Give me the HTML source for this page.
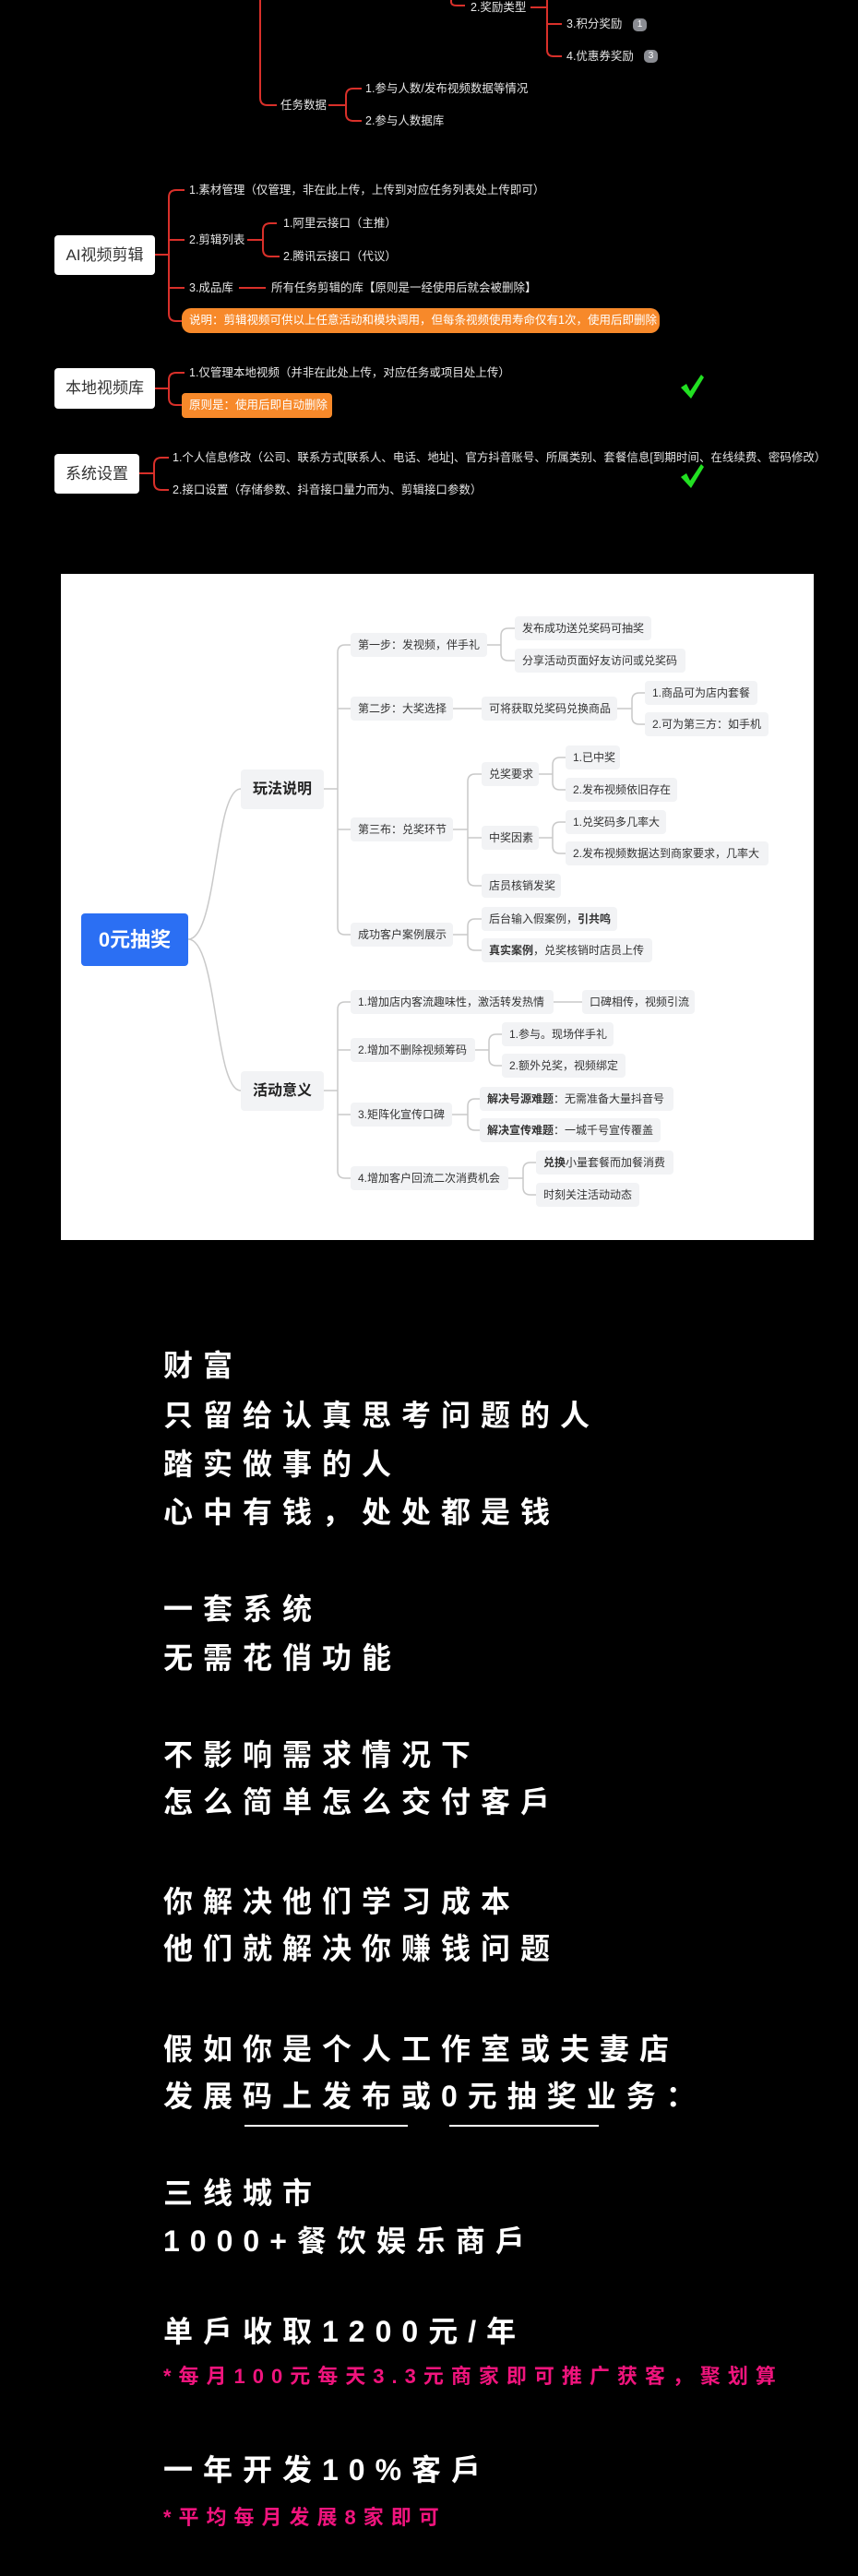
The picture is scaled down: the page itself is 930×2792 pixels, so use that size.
<!DOCTYPE html>
<html><head><meta charset="utf-8">
<style>
html,body{margin:0;padding:0;background:#000;}
body{width:930px;height:2792px;position:relative;overflow:hidden;font-family:"Liberation Sans","Noto Sans CJK SC",sans-serif;}
.d{position:absolute;font-size:12.5px;line-height:16px;color:#e6e6e6;white-space:nowrap;}
.box{position:absolute;background:#fff;border-radius:4px;color:#333;font-size:17px;text-align:center;box-sizing:border-box;}
.or{position:absolute;background:#f7892a;border-radius:10px;color:#fff;font-size:12.5px;white-space:nowrap;padding-left:8px;box-sizing:border-box;}
.badge{position:absolute;background:#8a8c92;border-radius:5px;color:#fff;font-size:10px;text-align:center;width:15px;height:14px;line-height:14px;}
.n{position:absolute;height:26px;line-height:26px;background:#f2f3f5;border-radius:4px;font-size:12px;color:#333;padding-left:8px;box-sizing:border-box;white-space:nowrap;}
.big{position:absolute;background:#f2f3f5;border-radius:4px;font-size:16px;font-weight:bold;color:#222;text-align:center;width:90px;height:43px;line-height:43px;}
.b{position:absolute;left:177px;font-size:32px;font-weight:bold;letter-spacing:11px;color:#fff;line-height:40px;white-space:nowrap;font-family:"Liberation Sans","Noto Sans CJK SC",sans-serif;}
.p{position:absolute;left:177px;font-size:22px;font-weight:bold;letter-spacing:8px;color:#f0147d;line-height:30px;white-space:nowrap;}
</style></head><body>

<svg style="position:absolute;left:0;top:0" width="930" height="600">
<g fill="none" stroke="#d9302a" stroke-width="2">
<path d="M282 0V106Q282 114 290 114H300"/>
<path d="M356 114H375M392 96H383Q375 96 375 104V123Q375 131 383 131H392"/>
<path d="M489 0V2Q489 6 495 6H504"/>
<path d="M575 8H593M593 0V54Q593 61 600 61H609M593 26H609"/>
<path d="M168 276H183M200 206H191Q183 206 183 214V340Q183 348 191 348H197M183 260H200M183 312H200"/>
<path d="M268 260H285M300 242H293Q285 242 285 250V270Q285 278 293 278H303"/>
<path d="M259 312H288"/>
<path d="M168 421H183M200 404H191Q183 404 183 412V431Q183 439 191 439H197"/>
<path d="M151 513H167M183 496H175Q167 496 167 504V523Q167 531 175 531H183"/>
</g>
<path d="M738 420 L744 416 L748 424 L760 406 L763 409 L749 432 Z" fill="#22e022"/>
<path d="M738 517 L744 513 L748 521 L760 503 L763 506 L749 529 Z" fill="#22e022"/>
</svg>

<div class="d" style="left:510px;top:0px">2.奖励类型</div>
<div class="d" style="left:614px;top:18px">3.积分奖励</div>
<div class="badge" style="left:686px;top:20px">1</div>
<div class="d" style="left:614px;top:53px">4.优惠券奖励</div>
<div class="badge" style="left:698px;top:54px">3</div>
<div class="d" style="left:304px;top:106px">任务数据</div>
<div class="d" style="left:396px;top:88px">1.参与人数/发布视频数据等情况</div>
<div class="d" style="left:396px;top:123px">2.参与人数据库</div>

<div class="box" style="left:59px;top:255px;width:109px;height:43px;line-height:43px">AI视频剪辑</div>
<div class="d" style="left:205px;top:198px">1.素材管理（仅管理，非在此上传，上传到对应任务列表处上传即可）</div>
<div class="d" style="left:205px;top:252px">2.剪辑列表</div>
<div class="d" style="left:307px;top:234px">1.阿里云接口（主推）</div>
<div class="d" style="left:307px;top:270px">2.腾讯云接口（代议）</div>
<div class="d" style="left:205px;top:304px">3.成品库</div>
<div class="d" style="left:294px;top:304px">所有任务剪辑的库【原则是一经使用后就会被删除】</div>
<div class="or" style="left:197px;top:334px;width:518px;height:27px;line-height:27px">说明：剪辑视频可供以上任意活动和模块调用，但每条视频使用寿命仅有1次，使用后即删除</div>

<div class="box" style="left:59px;top:399px;width:109px;height:44px;line-height:44px">本地视频库</div>
<div class="d" style="left:205px;top:396px">1.仅管理本地视频（并非在此处上传，对应任务或项目处上传）</div>
<div class="or" style="left:197px;top:426px;width:163px;height:27px;line-height:27px;border-radius:4px">原则是：使用后即自动删除</div>

<div class="box" style="left:59px;top:492px;width:92px;height:43px;line-height:43px">系统设置</div>
<div class="d" style="left:187px;top:488px">1.个人信息修改（公司、联系方式[联系人、电话、地址]、官方抖音账号、所属类别、套餐信息[到期时间、在线续费、密码修改）</div>
<div class="d" style="left:187px;top:523px">2.接口设置（存储参数、抖音接口量力而为、剪辑接口参数）</div>

<div style="position:absolute;left:66px;top:622px;width:816px;height:722px;background:#fff"></div>
<svg style="position:absolute;left:0;top:0" width="930" height="1400">
<g fill="none" stroke="#c9c9c9" stroke-width="1.5">
<path d="M204 1018C236 1018 232 855 261 855M204 1018C236 1018 232 1182 261 1182"/>
<path d="M351 855H366M380 699H374Q366 699 366 707V1005Q366 1013 374 1013H380M366 768H380M366 899H380"/>
<path d="M528 699H543M558 681H551Q543 681 543 689V708Q543 716 551 716H558"/>
<path d="M491 768H522M669 768H685M699 751H693Q685 751 685 759V777Q685 785 693 785H699"/>
<path d="M491 899H507M522 839H515Q507 839 507 847V952Q507 960 515 960H522M507 908H522"/>
<path d="M584 839H599M613 821H607Q599 821 599 829V848Q599 856 607 856H613"/>
<path d="M584 908H599M613 891H607Q599 891 599 899V917Q599 925 607 925H613"/>
<path d="M491 1013H507M522 996H515Q507 996 507 1004V1022Q507 1030 515 1030H522"/>
<path d="M351 1182H366M380 1086H374Q366 1086 366 1094V1269Q366 1277 374 1277H380M366 1138H380M366 1208H380"/>
<path d="M600 1086H631"/>
<path d="M515 1138H530M544 1121H538Q530 1121 530 1129V1147Q530 1155 538 1155H544"/>
<path d="M490 1208H507M520 1191H515Q507 1191 507 1199V1217Q507 1225 515 1225H520"/>
<path d="M551 1277H567M581 1260H575Q567 1260 567 1268V1287Q567 1295 575 1295H581"/>
</g>
</svg>
<div style="position:absolute;left:88px;top:990px;width:116px;height:57px;line-height:57px;background:#2b6ff3;border-radius:4px;color:#fff;font-size:22px;font-weight:bold;text-align:center">0元抽奖</div>
<div class="big" style="left:261px;top:834px">玩法说明</div>
<div class="big" style="left:261px;top:1161px">活动意义</div>

<div class="n" style="left:380px;top:686px;width:148px">第一步：发视频，伴手礼</div>
<div class="n" style="left:558px;top:668px;width:148px">发布成功送兑奖码可抽奖</div>
<div class="n" style="left:558px;top:703px;width:185px">分享活动页面好友访问或兑奖码</div>
<div class="n" style="left:380px;top:755px;width:111px">第二步：大奖选择</div>
<div class="n" style="left:522px;top:755px;width:147px">可将获取兑奖码兑换商品</div>
<div class="n" style="left:699px;top:738px;width:122px">1.商品可为店内套餐</div>
<div class="n" style="left:699px;top:772px;width:134px">2.可为第三方：如手机</div>
<div class="n" style="left:380px;top:886px;width:111px">第三布：兑奖环节</div>
<div class="n" style="left:522px;top:826px;width:62px">兑奖要求</div>
<div class="n" style="left:613px;top:808px;width:59px">1.已中奖</div>
<div class="n" style="left:613px;top:843px;width:121px">2.发布视频依旧存在</div>
<div class="n" style="left:522px;top:895px;width:62px">中奖因素</div>
<div class="n" style="left:613px;top:878px;width:109px">1.兑奖码多几率大</div>
<div class="n" style="left:613px;top:912px;width:220px">2.发布视频数据达到商家要求，几率大</div>
<div class="n" style="left:522px;top:947px;width:86px">店员核销发奖</div>
<div class="n" style="left:380px;top:1000px;width:111px">成功客户案例展示</div>
<div class="n" style="left:522px;top:983px;width:147px">后台输入假案例，<b>引共鸣</b></div>
<div class="n" style="left:522px;top:1017px;width:185px"><b>真实案例</b>，兑奖核销时店员上传</div>

<div class="n" style="left:380px;top:1073px;width:220px">1.增加店内客流趣味性，激活转发热情</div>
<div class="n" style="left:631px;top:1073px;width:122px">口碑相传，视频引流</div>
<div class="n" style="left:380px;top:1125px;width:135px">2.增加不删除视频筹码</div>
<div class="n" style="left:544px;top:1108px;width:121px">1.参与。现场伴手礼</div>
<div class="n" style="left:544px;top:1142px;width:134px">2.额外兑奖，视频绑定</div>
<div class="n" style="left:380px;top:1195px;width:110px">3.矩阵化宣传口碑</div>
<div class="n" style="left:520px;top:1178px;width:210px"><b>解决号源难题</b>：无需准备大量抖音号</div>
<div class="n" style="left:520px;top:1212px;width:196px"><b>解决宣传难题</b>：一城千号宣传覆盖</div>
<div class="n" style="left:380px;top:1264px;width:171px">4.增加客户回流二次消费机会</div>
<div class="n" style="left:581px;top:1247px;width:149px"><b>兑换</b>小量套餐而加餐消费</div>
<div class="n" style="left:581px;top:1282px;width:112px">时刻关注活动动态</div>

<div class="b" style="top:1460px">财富</div>
<div class="b" style="top:1514px">只留给认真思考问题的人</div>
<div class="b" style="top:1567px">踏实做事的人</div>
<div class="b" style="top:1619px">心中有钱，处处都是钱</div>
<div class="b" style="top:1724px">一套系统</div>
<div class="b" style="top:1777px">无需花俏功能</div>
<div class="b" style="top:1882px">不影响需求情况下</div>
<div class="b" style="top:1933px">怎么简单怎么交付客戶</div>
<div class="b" style="top:2041px">你解决他们学习成本</div>
<div class="b" style="top:2092px">他们就解决你赚钱问题</div>
<div class="b" style="top:2201px">假如你是个人工作室或夫妻店</div>
<div class="b" style="top:2252px">发展码上发布或0元抽奖业务：</div>
<div style="position:absolute;left:265px;top:2303px;width:177px;height:2px;background:#fff"></div>
<div style="position:absolute;left:487px;top:2303px;width:162px;height:2px;background:#fff"></div>
<div class="b" style="top:2357px">三线城市</div>
<div class="b" style="top:2409px">1000+餐饮娱乐商戶</div>
<div class="b" style="top:2507px">单戶收取1200元/年</div>
<div class="p" style="top:2561px">*每月100元每天3.3元商家即可推广获客，聚划算</div>
<div class="b" style="top:2657px">一年开发10%客戶</div>
<div class="p" style="top:2714px">*平均每月发展8家即可</div>
</body></html>
